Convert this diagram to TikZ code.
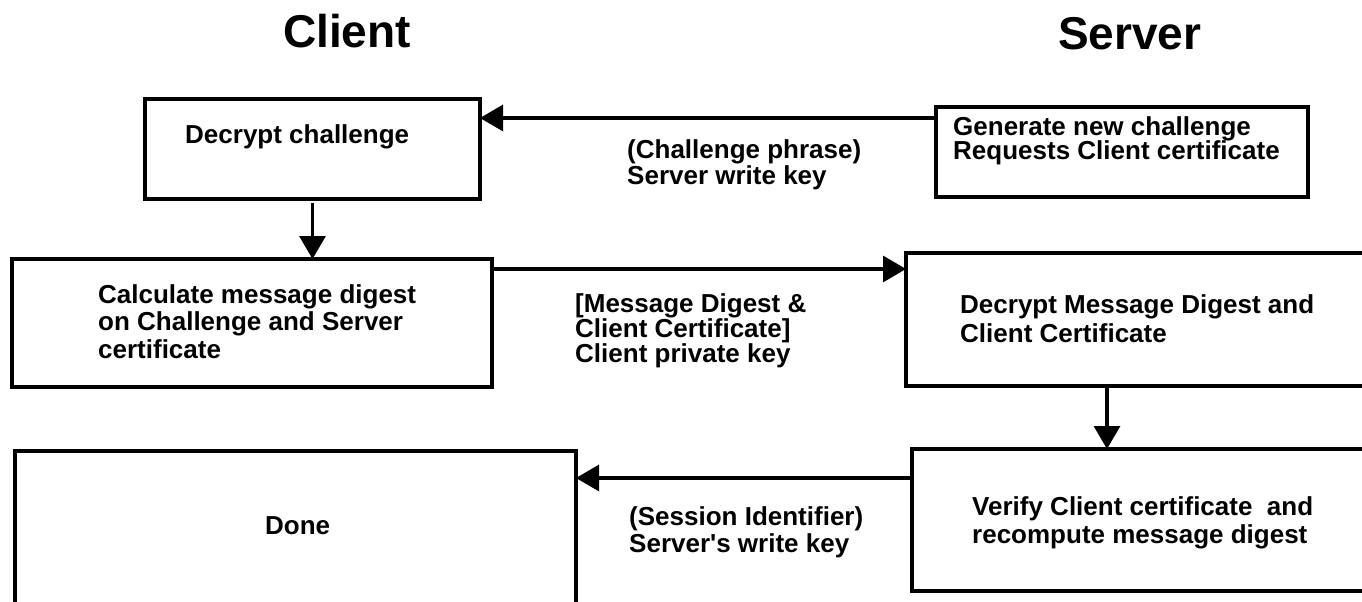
\documentclass[tikz,border=0pt]{standalone}
\usepackage{fontspec}
\newfontfamily\diagfont{Liberation Sans}
\usetikzlibrary{arrows.meta}
\setlength\lineskiplimit{-50pt}

\begin{document}
\begin{tikzpicture}[x=1pt,y=-1pt,
  box/.style={draw, line width=3.2pt, inner sep=0pt, outer sep=0pt},
  arr/.style={line width=3.2pt, -{Triangle[length=23pt,width=26pt]}},
  lbl/.style={anchor=base west, inner sep=0pt, font=\diagfont\bfseries\fontsize{26}{#1}\selectfont},
  lbl/.default=28,
  heading/.style={anchor=base west, inner sep=0pt, font=\diagfont\bfseries\fontsize{46}{50}\selectfont}]

\clip (0,0) rectangle (1362,602);

% column headings
\node[heading] (hclient) at (283,48) {Client};
\node[heading] (hserver) at (1058,50) {Server};

% process boxes
\node[box, minimum width=335pt, minimum height=100pt] (b1) at (312.5,149) {};
\node[box, minimum width=480pt, minimum height=128pt] (b2) at (252,323) {};
\node[box, minimum width=372pt, minimum height=90pt]  (b3) at (1122,152) {};
\node[box, minimum width=494pt, minimum height=133pt] (b4) at (1153,319.5) {};
\node[box, minimum width=488pt, minimum height=142pt] (b5) at (1156,520) {};
\node[box, minimum width=561pt, minimum height=199pt] (b6) at (295.5,550.5) {};

% box texts
\node[lbl] (t1) at (185,143) {Decrypt challenge};
\node[lbl=24.5] (t3) at (953,135) {\vtop{\hbox{Generate new challenge}\hbox{Requests Client certificate}}};
\node[lbl=27.5] (t4) at (98,303) {\vtop{\hbox{Calculate message digest}\hbox{on Challenge and Server}\hbox{certificate}}};
\node[lbl=29] (t6) at (960,313) {\vtop{\hbox{Decrypt Message Digest and}\hbox{Client Certificate}}};
\node[lbl=28] (t7) at (972,515) {\vtop{\hbox{Verify Client certificate~ and}\hbox{recompute message digest}}};
\node[lbl] (t8) at (265,534) {Done};

% message labels
\node[lbl=26] (m1) at (627,158) {\vtop{\hbox{(Challenge phrase)}\hbox{Server write key}}};
\node[lbl=25] (m2) at (575,312) {\vtop{\hbox{[Message Digest \&}\hbox{Client Certificate]}\hbox{Client private key}}};
\node[lbl=27] (m3) at (629,525) {\vtop{\hbox{(Session Identifier)}\hbox{Server's write key}}};

% message flow
\draw[arr] (b3.west |- 0,118) -- (b1.east |- 0,118);
\draw[arr, shorten <=4pt] (b1.south) -- (b1.south |- b2.north);
\draw[arr] (b2.east |- 0,269) -- (b4.west |- 0,269);
\draw[arr] (b4.south -| 1107,0) -- (b5.north -| 1107,0);
\draw[arr] (b5.west |- 0,478) -- (b6.east |- 0,478);
\end{tikzpicture}
\end{document}
